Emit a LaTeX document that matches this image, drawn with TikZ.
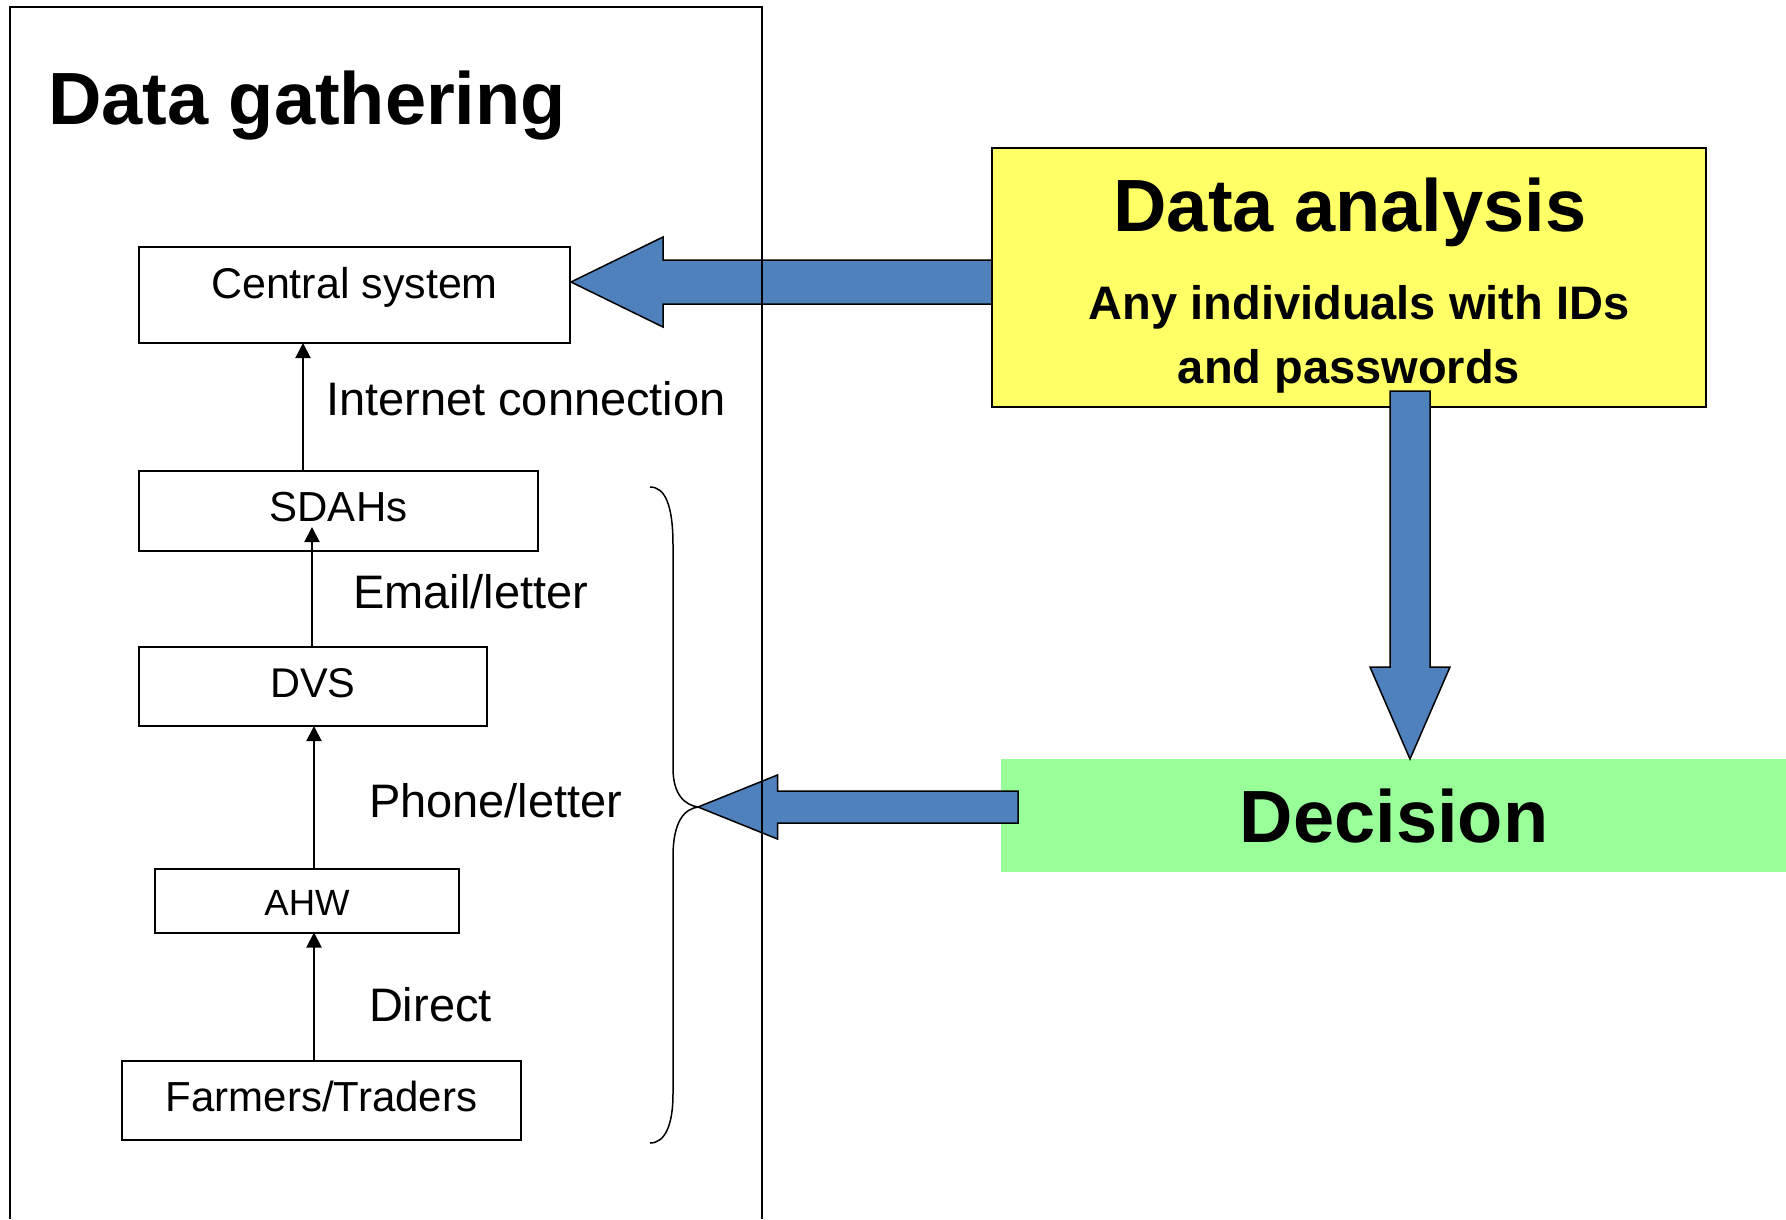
\documentclass[tikz,border=0pt]{standalone}
\usepackage{fontspec}
\setmainfont{Liberation Sans}
\usetikzlibrary{arrows.meta,calc}
\definecolor{arrowblue}{HTML}{4F81BD}
\definecolor{anyellow}{HTML}{FFFF66}
\definecolor{decgreen}{HTML}{99FF99}
\newcommand{\myfs}[1]{\fontsize{#1}{#1}\selectfont}
\begin{document}
\begin{tikzpicture}[x=1pt,y=-1pt,
  box/.style={draw=black, line width=2pt, inner sep=0pt, outer sep=0pt},
  txt/.style={inner sep=0pt, outer sep=0pt},
  boxtxt/.style={txt, anchor=base, font=\myfs{#1}},
  lbl/.style={txt, anchor=base west, font=\myfs{47}},
  flow/.style={line width=2pt, -{Triangle[length=15pt,width=15pt]}},
  blockarrow/.style={fill=arrowblue, draw=black, line width=1.5pt, line join=miter},
  framestyle/.style={line width=2pt}]
\useasboundingbox (0,0) rectangle (1786,1219);

% ---- left column boxes ----
\node[box, minimum width=431pt, minimum height=96pt] (cs) at (354.5,295) {};
\node[box, minimum width=399pt, minimum height=80pt] (sdahs) at (338.5,511) {};
\node[box, minimum width=348pt, minimum height=79pt] (dvs) at (313,686.5) {};
\node[box, minimum width=304pt, minimum height=63.5pt] (ahw) at (307,900.75) {};
\node[box, minimum width=399pt, minimum height=79pt] (farm) at (321.5,1100.5) {};

\node[boxtxt=43] (cstxt) at (354.5,298) {Central system};
\node[boxtxt=42] (sdahstxt) at (338.5,521.7) {SDAHs};
\node[boxtxt=41.5] (dvstxt) at (313,697) {DVS};
\node[boxtxt=36.5] (ahwtxt) at (307,915) {AHW};
\node[boxtxt=42] (farmtxt) at (321.5,1111) {Farmers/Traders};

% ---- title ----
\node[txt, anchor=base west, font=\bfseries\myfs{74}] (title) at (48,124) {Data gathering};

% ---- thin arrows ----
\coordinate (xi) at (303,0);
\coordinate (xe) at (312,0);
\coordinate (xp) at (314,0);
\draw[flow] (sdahs.north -| xi) -- (cs.south -| xi);
\draw[flow] (dvs.north -| xe) -- ($(sdahs.south -| xe)+(0,-24)$);
\draw[flow] (ahw.north -| xp) -- (dvs.south -| xp);
\draw[flow] (farm.north -| xp) -- (ahw.south -| xp);

\node[lbl] (inet) at (326,415) {Internet connection};
\node[lbl] (email) at (353,608) {Email/letter};
\node[lbl] (phone) at (369,817.4) {Phone/letter};
\node[lbl] (direct) at (369,1021.4) {Direct};

% ---- brace ----
\draw[line width=1.5pt] (650,487) .. controls (665,487) and (673,505) .. (673,545)
  -- (673,768) .. controls (673,795) and (685,805) .. (698,807)
  .. controls (685,809) and (673,820) .. (673,857)
  -- (673,1094) .. controls (673,1125) and (665,1143) .. (650,1143);

% ---- decision box ----
\node[fill=decgreen, inner sep=0pt, outer sep=0pt, minimum width=785pt, minimum height=113pt] (dec) at (1393.5,815.5) {};
\node[boxtxt=74, font=\bfseries\myfs{74}] (dectxt) at (1394,842.6) {Decision};

% arrow from decision to brace
\coordinate (bTip) at (698,807);
\coordinate (bTail) at ($(dec.west |- bTip)+(17,0)$);
\draw[blockarrow] let \p1=(bTip), \p2=(bTail) in
  (\x2,\y1+16pt) -- (\x1+79.5pt,\y1+16pt) -- (\x1+79.5pt,\y1+32pt) -- (\p1)
  -- (\x1+79.5pt,\y1-32pt) -- (\x1+79.5pt,\y1-16pt) -- (\x2,\y1-16pt) -- cycle;

% ---- data analysis box ----
\node[box, line width=1.5pt, fill=anyellow, minimum width=714pt, minimum height=259pt] (da) at (1349,277.5) {};
\node[boxtxt=74, font=\bfseries\myfs{74}] (datitle) at (1350,231.8) {Data analysis};
\node[boxtxt=47, font=\bfseries\myfs{47}] (daline1) at (1359,319) {Any individuals with IDs};
\node[boxtxt=47, font=\bfseries\myfs{47}] (daline2) at (1349,383) {and passwords};

% arrow from data analysis to central system
\coordinate (aTip) at ($(cs.east)+(1,-13)$);
\coordinate (aTail) at (da.west |- aTip);
\draw[blockarrow] let \p1=(aTip), \p2=(aTail) in
  (\x2,\y1+22pt) -- (\x1+92pt,\y1+22pt) -- (\x1+92pt,\y1+45pt) -- (\p1)
  -- (\x1+92pt,\y1-45pt) -- (\x1+92pt,\y1-22pt) -- (\x2,\y1-22pt) -- cycle;
\draw[line width=1.5pt] (da.north west) rectangle (da.south east);

% arrow from data analysis down to decision
\coordinate (cTip) at (dec.north -| 1410,0);
\coordinate (cTail) at (1410,391);
\draw[blockarrow] let \p1=(cTip), \p2=(cTail) in
  (\x1-20pt,\y2) -- (\x1-20pt,\y1+92pt) -- (\x1-40pt,\y1+92pt) -- (\p1)
  -- (\x1+40pt,\y1+92pt) -- (\x1+20pt,\y1+92pt) -- (\x1+20pt,\y2) -- cycle;

% ---- frame (drawn on top) ----
\draw[framestyle] (10,1219) -- (10,7) -- (762,7) -- (762,1219);
\end{tikzpicture}
\end{document}
